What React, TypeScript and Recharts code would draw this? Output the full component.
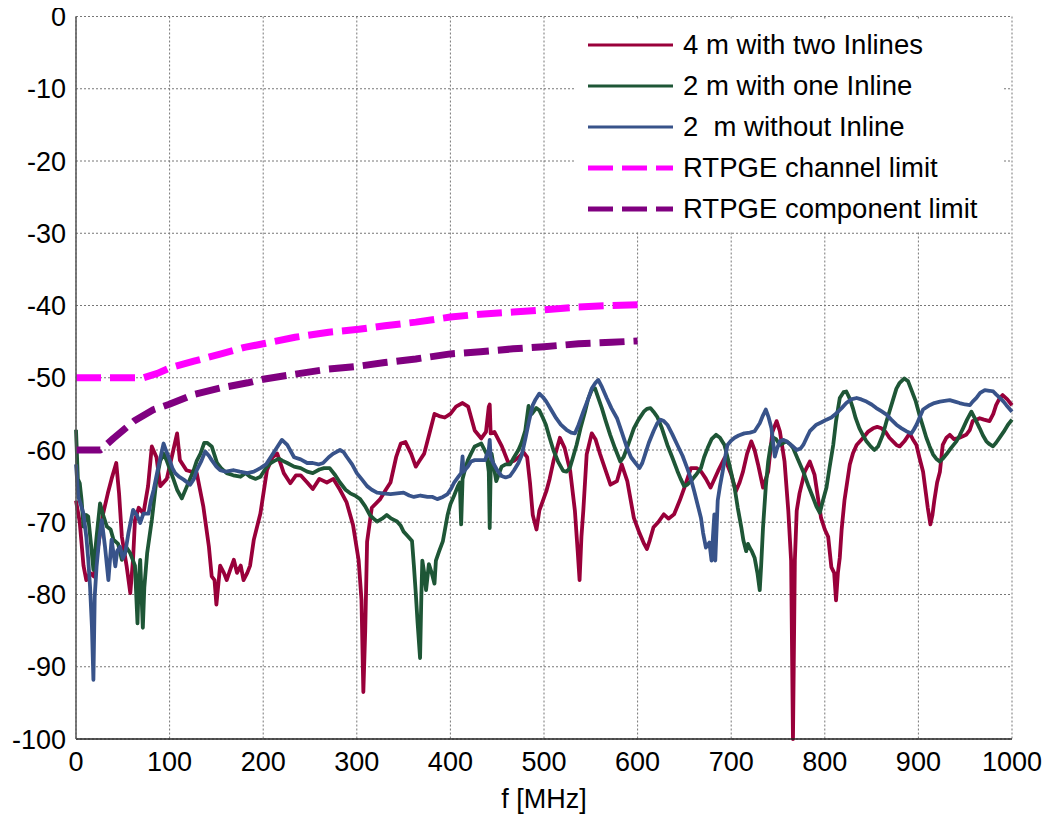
import { CartesianGrid, Line, LineChart, XAxis, YAxis } from 'recharts';

// f [MHz], attenuation [dB]
const twoInlines: [number, number][] = [
  [0, -67], [4, -70], [8, -76], [11, -78], [15, -77], [19, -77.5], [24, -73], [29, -68.8], [34, -66], [38, -64],
  [43, -61.8], [46, -66], [49, -72], [54, -76], [58, -79.8], [61, -75], [63, -69.7], [67, -68], [72, -68.8], [77, -65],
  [81, -59.5], [86, -61], [90, -65], [97, -64], [104, -60], [108, -57.7], [111, -61.4], [118, -62.8], [129, -63.2], [136, -67.8],
  [142, -73.4], [145, -77.5], [148, -78], [150, -81.4], [154, -76], [158, -77], [161, -78], [165, -76.5], [168.6, -75.2], [172, -77],
  [176, -76], [179, -78], [183, -77], [186, -76], [190, -72.4], [197, -68.8], [204, -62.8], [210, -61], [215, -60.5], [222, -63.2],
  [229, -64.6], [235, -63.5], [240, -63.5], [247, -64.5], [253, -65.4], [260, -64], [268, -64.5], [275, -64], [282, -65.5], [289, -67.2],
  [296, -70.4], [302, -75.3], [305, -80.7], [307, -93.5], [309, -85], [311, -72.7], [316, -68], [325, -66.8], [331, -65.5], [336, -64.5],
  [342, -61], [347, -59.1], [352, -58.9], [358, -60.5], [363, -62.3], [367, -61.5], [372, -60.5], [378, -57.5], [383, -55], [388, -55.3],
  [394, -55.5], [400, -55], [406, -54], [413, -53.5], [419, -54], [426, -57.3], [433, -58.4], [438, -57.5], [441, -54], [442, -53.7],
  [443, -57.7], [447, -57.5], [455, -59.5], [462, -61.8], [468, -61.5], [473, -61], [478, -60.3], [482, -61], [485, -64.5], [488, -69],
  [492, -71], [495, -68.4], [502.5, -65.7], [506, -64], [510, -61.6], [517, -58.3], [522, -59.7], [528, -62.9], [533, -68.4], [536, -74],
  [538, -78], [540, -72], [542, -68.4], [545.6, -60.6], [551, -57.7], [555, -58.5], [560, -60.6], [565, -62.5], [571, -64.8], [578, -64.3],
  [583, -62], [589, -64.3], [596, -69.4], [602, -71.5], [607, -73], [610, -73.7], [613, -72.5], [617, -70.7], [622, -70], [628, -68.9],
  [633, -69.5], [639, -68.9], [645, -67], [650, -65.2], [657, -62.5], [663, -62.5], [668, -63], [673, -64], [678, -65.2], [686, -62.9],
  [693, -61.1], [700, -63.4], [705, -65.7], [709, -64.5], [712.6, -63], [717, -60.5], [721.5, -58.8], [725, -60], [728.7, -62], [734, -65.2],
  [739.5, -63], [744, -57.5], [748.5, -56], [752, -57.4], [757, -61.6], [761, -68.4], [764, -75.3], [766, -100], [768, -75.3], [770, -68.4],
  [773, -66], [778.6, -63], [784, -61.6], [789, -63.4], [792, -66], [796, -69.4], [800, -71], [803.6, -72], [807, -76.2], [810, -77],
  [812, -80.8], [814, -77], [816, -74.9], [818, -71], [821, -67], [826.7, -62], [830, -60.5], [834, -59.3], [841, -58.3], [846, -57.5],
  [851.6, -57], [856, -56.8], [860.5, -57], [865, -57.5], [869, -58.3], [876.5, -59.3], [880, -59.5], [885, -58.8], [890.7, -57.7], [894, -58.5],
  [897.9, -59.3], [901, -61], [905, -63], [908, -66], [910, -68], [912.8, -70.3], [915, -69], [917, -67], [920, -64.5], [923, -63],
  [926, -59.3], [930, -58.3], [933.5, -57.9], [938, -58.5], [944, -58.3], [951, -57.9], [955, -57.2], [958, -56], [962, -55.8], [965.5, -55.6],
  [970, -55.8], [976, -56], [980, -55], [983, -53.8], [987, -52.8], [990, -52.4], [995, -53], [1000, -53.8],
];

const oneInline: [number, number][] = [
  [0, -57.2], [2, -64], [4, -64.6], [6, -67], [8, -70.6], [11, -69], [13, -69.2], [16, -73], [18.6, -76.6], [22, -72],
  [25.7, -67.4], [29, -69], [33, -70.6], [37, -71], [40, -72.4], [45, -73], [49, -75.2], [54, -73.5], [58, -74.3], [63, -76],
  [65.7, -84], [67, -78], [68.6, -75.2], [70, -80], [71.4, -84.6], [73, -79], [76, -74.3], [81, -69.7], [86, -64.1], [90, -61.5],
  [93.6, -60.5], [97, -61.5], [100.7, -62.8], [104, -64], [108, -65.5], [113, -66.7], [118.6, -65], [125.7, -62.8], [129, -61.5], [133, -60.5],
  [137, -59], [140, -59], [145, -59.5], [150.7, -61.8], [155, -62.5], [161, -63.2], [168, -63.5], [175.7, -63.7], [181, -63.2], [186, -63.7],
  [192, -64], [197, -63.7], [203, -62.5], [208, -61.8], [212, -61.5], [216.8, -61.2], [221, -61.5], [225.7, -61.8], [233, -62.3], [240, -62.5],
  [247, -63], [253, -63.2], [260, -62.7], [265, -62.5], [271, -62.5], [277, -63.5], [282, -64.5], [288, -65.5], [293, -66], [298, -66.3],
  [303.6, -66.8], [309, -67.8], [314, -69], [318, -69.5], [321.6, -69.9], [327, -69.5], [332, -69], [337, -69.5], [343, -69.9], [347, -70.5],
  [350, -71.3], [355, -72], [359, -72.6], [361, -76], [363, -79.8], [365, -84], [367.6, -88.8], [369, -80], [370, -75.3], [372, -77],
  [374, -79.4], [376, -77], [377, -75.8], [380, -77], [383, -78.5], [384.5, -75.3], [388, -74], [392, -72.6], [397, -69], [400, -67.5],
  [404, -66.3], [408, -65], [410, -64.5], [411.5, -70.3], [413, -64], [416, -62.5], [418.7, -61.4], [422, -60.5], [426, -59.5], [433, -59.1],
  [438.5, -60.5], [441, -63], [442, -70.8], [443, -63], [444, -60.5], [449, -64.3], [454.7, -62.3], [459, -62], [463.7, -62], [468, -61],
  [472.7, -60], [476, -59], [480, -57.3], [483.5, -53.9], [487, -55], [491.7, -54.2], [495, -54.5], [499, -55.6], [502, -56.5], [506, -58.3],
  [510, -60], [515, -61.6], [520.5, -62.9], [524, -63], [527.6, -62.5], [531, -61], [534.8, -59.3], [539, -57], [543.8, -54.7], [547, -53],
  [551, -51.7], [554.6, -51.5], [558, -52.8], [561.8, -54.2], [566, -56], [570.7, -57.9], [576, -59.8], [581.5, -61.6], [585, -61], [588.7, -59.7],
  [592, -58.5], [596, -57], [601, -55.8], [606.6, -54.7], [610, -54.3], [613.8, -54.2], [617, -54.7], [621, -55.4], [626, -57], [631.8, -59.3],
  [637, -61], [642.5, -62.9], [646, -64], [649.7, -65], [653, -64.8], [657, -64.3], [662, -63.5], [667.7, -62.5], [671, -61], [674.9, -59.7],
  [679, -58.5], [683.8, -57.9], [688, -58.3], [692.8, -59.3], [698, -62], [703.6, -65.2], [707, -68], [710.8, -70.7], [713, -72.5], [716, -74],
  [718, -73], [719.7, -73.5], [722, -74], [725, -74.9], [728, -77], [730.5, -79.4], [732, -76], [734, -70.7], [737, -65], [739.5, -61.6],
  [742, -59.5], [745, -58.3], [748, -58.5], [752, -59.3], [756, -59], [759, -58.8], [763, -59.2], [766, -59.7], [771, -61.2], [777, -63],
  [782, -64.8], [787.5, -66.6], [791, -67.8], [794.7, -68.7], [798, -67], [801.8, -65.2], [805, -62.5], [809, -59.3], [812, -56], [816, -52.8],
  [820, -52], [823, -51.9], [827, -53], [830, -54.2], [833, -55.6], [837, -57], [841, -58], [844.5, -58.8], [849, -59.5], [853, -60],
  [857, -59.5], [862, -57.9], [866, -56], [869, -54.7], [873, -53], [876.5, -51.5], [880, -50.7], [885, -50.1], [889, -50.5], [892, -51.5],
  [897, -53.2], [901, -55.1], [905, -56.8], [908.5, -58.3], [912, -59.5], [915.6, -60.6], [919, -61.2], [922.8, -61.6], [926, -61.2], [929.9, -60.6],
  [935, -59.7], [940.6, -58.8], [944, -58], [947.7, -57], [952, -55.8], [956.6, -54.7], [961, -55.8], [965.5, -57], [969, -58], [972.6, -58.8],
  [976, -59.2], [979.7, -59.5], [983, -59], [986.8, -58.3], [991, -57.5], [995.7, -56.5], [1000, -55.8],
];

const noInline: [number, number][] = [
  [0, -62], [2.5, -66.5], [5, -67.5], [8, -68.8], [11, -72], [13, -75], [15, -78.9], [17, -84.4], [18.6, -91.8], [20, -80.3],
  [22, -76.1], [25, -72], [27.5, -69.7], [31, -73.4], [34.6, -78], [38, -72.4], [42, -76.1], [44, -74], [47, -73.4], [50, -75],
  [52.5, -74.3], [56, -71.5], [61, -68.3], [65, -69], [68.6, -70.1], [72, -68.8], [77.5, -68.8], [80, -67], [83, -65.5], [88, -62.3],
  [93.6, -59.1], [96, -60], [99, -61], [103, -62.5], [106, -63.2], [110, -63.7], [115, -64.1], [122, -64.8], [126, -64], [129, -62.8],
  [134, -61.5], [138, -60.2], [142, -60.8], [145, -61.4], [150, -62.3], [154, -62.8], [160, -63], [168.6, -62.8], [175, -63], [183, -63.2],
  [190, -63], [197, -62.5], [203, -62], [208, -61], [214, -59.8], [220, -58.6], [225.7, -59.3], [233, -61], [240, -61.3], [247, -61.8],
  [253, -61.8], [259, -62], [264, -61.8], [270, -61], [275, -60.5], [282, -60], [286, -60.3], [289, -60.9], [295, -62], [300, -63.2],
  [305, -64], [311, -65], [316, -65.5], [321.6, -65.9], [328, -66], [336, -66.1], [343, -66], [350, -65.9], [356, -66.3], [361, -66.5],
  [368, -66.3], [375.5, -66.5], [381, -66.5], [386, -66.8], [392, -66.5], [397, -66.1], [401, -65.3], [404, -64.5], [408, -63.8], [411.5, -63.2],
  [413, -60.9], [414, -63], [418.7, -62.3], [422, -61.6], [426, -61.4], [431, -61.4], [437, -61.4], [441, -60], [442, -58.6], [443, -61],
  [445.7, -61.8], [450, -62.8], [454.7, -63.6], [459, -63.8], [463.7, -63.6], [468, -62.8], [472.7, -61.8], [476, -60.8], [480, -58.5], [484, -56],
  [488, -53.8], [491, -53], [495, -52.2], [499, -52.7], [502.5, -53.3], [507, -54.3], [513, -55.6], [518, -56.5], [524, -57.2], [529, -57.6],
  [533, -57.7], [537, -56.5], [542, -54.7], [547, -53], [551, -51.5], [555, -50.7], [558, -50.3], [562, -51.3], [567, -52.8], [572, -54.2],
  [578, -55.6], [583, -57.5], [588.7, -59.7], [593, -61], [597.7, -61.8], [602, -62.5], [605, -61.8], [608, -60.6], [612, -59], [617, -57.4],
  [621, -56.3], [624.6, -55.8], [628, -56], [631.8, -56.5], [637, -57.8], [642.5, -59.3], [648, -60.8], [653, -62.5], [657, -64], [660.5, -65.7],
  [664, -67.5], [667.7, -69.4], [670, -71.5], [673, -73.5], [676.7, -72.8], [679, -75.3], [680.5, -72], [682, -68.9], [683, -75.3], [685.6, -67],
  [688, -65], [691, -62.9], [693.5, -61], [696, -59.3], [700, -58.7], [703.6, -58.3], [708, -58], [714, -57.7], [720, -57.6], [725, -57.4],
  [730.5, -56.3], [734, -55.2], [737, -54.4], [740, -55.5], [743, -57], [746.6, -60.9], [749, -59.8], [752, -58.8], [756, -58.6], [759, -58.8],
  [765, -59.4], [770, -60], [774, -59.8], [777, -59.3], [781, -58.2], [784, -57.4], [791, -56.5], [796, -56.2], [801.8, -55.8], [807, -55.5],
  [812.5, -54.9], [818, -54.2], [823, -53.5], [828, -53], [834, -52.8], [839, -53], [844.5, -53.3], [850, -53.7], [855, -54.2], [860, -54.6],
  [866, -55.1], [871, -55.8], [876.5, -56.5], [882, -57], [887, -57.4], [892.5, -57.7], [895, -57.2], [898, -56.5], [902, -55.3], [905, -54.4],
  [912, -53.8], [917, -53.5], [923, -53.3], [928, -53.2], [933.5, -53.1], [939, -53.3], [944, -53.5], [950, -53.7], [955, -53.8], [958, -53.3],
  [962, -52.8], [966, -52.1], [971, -51.7], [976, -51.8], [980, -51.9], [983, -52.3], [987, -52.8], [991, -53.3], [994, -53.8], [1000, -54.7],
];

const channelLimit: [number, number][] = [
  [0, -50], [25, -50], [50, -50], [72, -50], [87, -49.4], [101, -48.6], [126, -47.7], [155, -46.7], [180, -45.8], [200, -45.3],
  [234, -44.4], [270, -43.7], [302, -43.3], [330, -42.8], [363, -42.3], [400, -41.6], [432, -41.2], [467, -40.9], [500, -40.6], [537, -40.2],
  [572, -40], [600, -39.9],
];

const componentLimit: [number, number][] = [
  [0, -60], [26, -60], [40, -58.4], [62, -56], [83, -54.4], [99, -53.7], [126, -52.3], [155, -51.4], [183.5, -50.7], [200, -50.2],
  [234, -49.5], [270, -48.8], [302, -48.4], [330, -47.9], [363, -47.4], [400, -46.7], [432, -46.4], [467, -46], [500, -45.7], [537, -45.3],
  [572, -45.1], [600, -44.9],
];

const xTicks = [0, 100, 200, 300, 400, 500, 600, 700, 800, 900, 1000];
const yTicks = [0, -10, -20, -30, -40, -50, -60, -70, -80, -90, -100];

const toRows = (pts: [number, number][]) => pts.map(([f, db]) => ({ f, db }));

const series = [
  { name: '4 m with two Inlines', data: twoInlines, color: '#99003a', dashed: false },
  { name: '2 m with one Inline', data: oneInline, color: '#1e5636', dashed: false },
  { name: '2  m without Inline', data: noInline, color: '#38538a', dashed: false },
  { name: 'RTPGE channel limit', data: channelLimit, color: '#ff00ff', dashed: true },
  { name: 'RTPGE component limit', data: componentLimit, color: '#800080', dashed: true },
];

const font = '"Liberation Sans", Arial, sans-serif';
const tickStyle = { fill: '#000', fontSize: 27, fontFamily: font };

const LegendBox = () => (
  <div
    style={{
      position: 'absolute', left: 567, top: 32, width: 428, height: 212,
      background: '#fff', fontFamily: font, fontSize: 27.5, color: '#000', paddingTop: 4.5,
      boxSizing: 'border-box',
    }}
  >
    {series.map(s => (
      <div key={s.name} style={{ display: 'flex', alignItems: 'center', height: 41 }}>
        <svg width={108} height={20} style={{ flex: 'none' }}>
          <line
            x1={13} x2={98} y1={10} y2={10}
            stroke={s.color}
            strokeWidth={s.dashed ? 5 : 3}
            strokeDasharray={s.dashed ? '25 9' : undefined}
          />
        </svg>
        <span style={{ whiteSpace: 'pre' }}>{s.name}</span>
      </div>
    ))}
  </div>
);

export default function App() {
  return (
    <div style={{ position: 'relative', width: 1040, height: 827, marginTop: -20 }}>
      <LineChart width={1040} height={827} margin={{ top: 28.5, right: 36, left: 0, bottom: 0 }}>
        <CartesianGrid stroke="#777" strokeDasharray="2 2" />
        <XAxis
          type="number" dataKey="f" domain={[0, 1000]} ticks={xTicks} interval={0}
          height={76} tick={tickStyle} tickLine={false} tickSize={6} tickMargin={7}
          axisLine={{ stroke: '#222', strokeWidth: 1.5 }}
          label={{ value: 'f [MHz]', position: 'insideBottom', offset: 7, fill: '#000', fontSize: 27, fontFamily: font }}
        />
        <YAxis
          type="number" domain={[-100, 0]} ticks={yTicks} interval={0} width={68}
          tick={tickStyle} tickLine={false} tickSize={6} tickMargin={4}
          axisLine={{ stroke: '#555', strokeWidth: 1.5 }}
        />
        {series.map(s => (
          <Line
            key={s.name}
            data={toRows(s.data)}
            dataKey="db"
            type="linear"
            stroke={s.color}
            strokeWidth={s.dashed ? 7 : 3.8}
            strokeDasharray={s.dashed ? '25 9' : undefined}
            strokeLinejoin="round"
            dot={false}
            activeDot={false}
            isAnimationActive={false}
          />
        ))}
      </LineChart>
      <LegendBox />
    </div>
  );
}
